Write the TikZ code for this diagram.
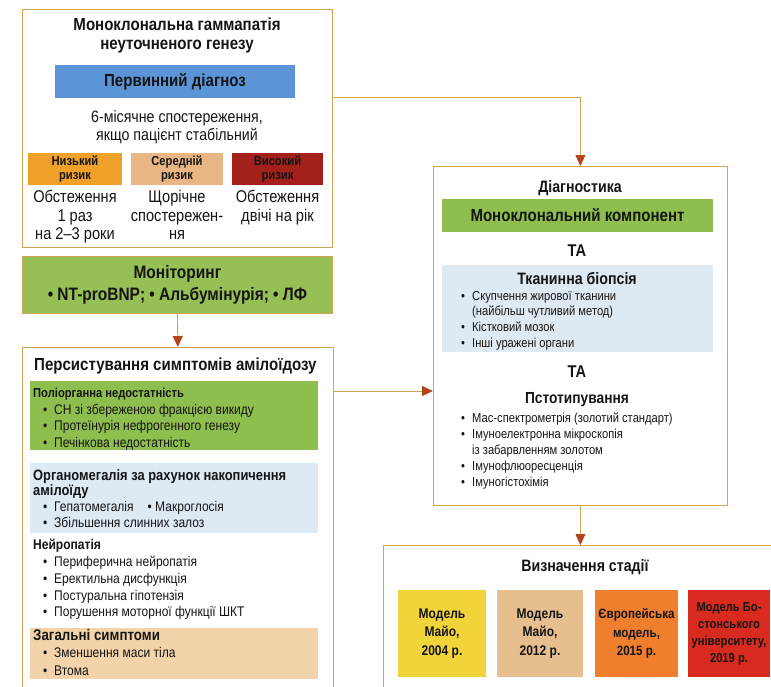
\documentclass[tikz,border=0pt]{standalone}
\usepackage{fontspec}
\setmainfont[FakeStretch=0.86]{Liberation Sans}
\usetikzlibrary{arrows.meta,calc}
\definecolor{brd}{HTML}{CFA552}
\definecolor{arr}{HTML}{B5441C}
\definecolor{barblue}{HTML}{5C94D8}
\definecolor{grn}{HTML}{8DBE4E}
\definecolor{mongrn}{HTML}{96BF55}
\definecolor{lblue}{HTML}{DDE9F3}
\definecolor{peach}{HTML}{F2D3AA}
\definecolor{risklow}{HTML}{EFA12A}
\definecolor{riskmid}{HTML}{E8B585}
\definecolor{riskhigh}{HTML}{A3201B}
\definecolor{st1}{HTML}{F1D43A}
\definecolor{st2}{HTML}{E7BE8E}
\definecolor{st3}{HTML}{EF7F2C}
\definecolor{st4}{HTML}{D92A1F}
\definecolor{txt}{HTML}{151515}
\newcommand{\bul}{\hspace*{10pt}\makebox[11pt][l]{•}}
\newcommand{\dbul}{\makebox[11pt][l]{•}}
\begin{document}
\begin{tikzpicture}[x=1pt,y=-1pt,text=txt,
  box/.style={draw=brd,line width=0.8pt,fill=white,anchor=north west,inner sep=0pt},
  panel/.style={anchor=north west,inner sep=0pt,draw=none},
  arrow/.style={draw=brd,line width=0.9pt,-{Triangle[length=11pt,width=10pt,color=arr]}},
  risk/.style={minimum height=32pt,inner sep=0pt,align=center,font=\bfseries\fontsize{13}{14}\selectfont},
  stagebox/.style={minimum height=87pt,inner sep=0pt,align=center,font=\bfseries\fontsize{14}{18.5}\selectfont},
  hdr/.style={font=\bfseries\fontsize{16.5}{18}\selectfont,inner sep=0pt},
  lst/.style={anchor=north west,align=left,inner sep=0pt},
  col/.style={anchor=north,align=center,inner sep=0pt,font=\fontsize{17}{18.5}\selectfont}]
\useasboundingbox (0,0) rectangle (771,686);
\clip (0,0) rectangle (771,686);
\fill[white] (0,0) rectangle (771,686);

% top box
\node[box,minimum width=310pt,minimum height=238pt] (top) at (22,9) {};
\node[align=center,inner sep=0pt,font=\bfseries\fontsize{17.5}{19}\selectfont] (title) at (177,35) {Моноклональна гаммапатія\\неуточненого генезу};
\node[fill=barblue,minimum width=240pt,minimum height=33pt,inner sep=0pt,font=\bfseries\fontsize{17.5}{18}\selectfont] (prim) at (175,81.5) {Первинний діагноз};
\node[align=center,inner sep=0pt,font=\fontsize{16.5}{17.5}\selectfont] (obs) at (177,127) {6-місячне спостереження,\\якщо пацієнт стабільний};
\node[risk,fill=risklow,minimum width=94pt] (low) at (75,169) {Низький\\ризик};
\node[risk,fill=riskmid,minimum width=92pt] (mid) at (177,169) {Середній\\ризик};
\node[risk,fill=riskhigh,minimum width=91pt] (high) at (277.5,169) {Високий\\ризик};
\node[col] (lowt) at (75,190) {Обстеження\\1 раз\\на 2–3 роки};
\node[col] (midt) at (177,190) {Щорічне\\спостережен-\\ня};
\node[col] (hight) at (277.5,190) {Обстеження\\двічі на рік};

% monitoring
\node[box,fill=mongrn,minimum width=310pt,minimum height=57pt,align=center,font=\bfseries\fontsize{18}{22}\selectfont] (mon) at (22,256) {Моніторинг\\• NT-proBNP; • Альбумінурія; • ЛФ};

% persistence box
\node[box,minimum width=311pt,minimum height=345pt] (pers) at (22,347) {};
\node[anchor=west,font=\bfseries\fontsize{17.5}{19}\selectfont,inner sep=0pt] (persh) at (34,366) {Персистування симптомів амілоїдозу};
\node[panel,fill=grn,minimum width=288pt,minimum height=69pt] (pg) at (30,381) {};
\node[lst,font=\fontsize{14}{16.5}\selectfont] (pgt) at (33,388) {{\bfseries\fontsize{13}{16.5}\selectfont Поліорганна недостатність}\\\bul СН зі збереженою фракцією викиду\\\bul Протеїнурія нефрогенного генезу\\\bul Печінкова недостатність};
\node[panel,fill=lblue,minimum width=288pt,minimum height=70pt] (pb) at (30,463) {};
\node[lst,font=\fontsize{14}{15.7}\selectfont] (pbt) at (33,469) {{\bfseries\fontsize{15}{15.7}\selectfont Органомегалія за рахунок накопичення}\\{\bfseries\fontsize{15}{15.7}\selectfont амілоїду}\\\bul Гепатомегалія\quad• Макроглосія\\\bul Збільшення слинних залоз};
\node[lst,font=\fontsize{14}{16.8}\selectfont] (pnt) at (33,539) {{\bfseries\fontsize{14}{16.8}\selectfont Нейропатія}\\\bul Периферична нейропатія\\\bul Еректильна дисфункція\\\bul Постуральна гіпотензія\\\bul Порушення моторної функції ШКТ};
\node[panel,fill=peach,minimum width=288pt,minimum height=51pt] (pp) at (30,628) {};
\node[lst,font=\fontsize{14}{17.5}\selectfont] (ppt) at (33,629) {{\bfseries\fontsize{15.5}{17.5}\selectfont Загальні симптоми}\\\bul Зменшення маси тіла\\\bul Втома};

% diagnostics box
\node[box,minimum width=294pt,minimum height=339pt] (diag) at (433,166) {};
\node[hdr] (diagh) at (580,188) {Діагностика};
\node[fill=grn,minimum width=271pt,minimum height=33pt,inner sep=0pt,font=\bfseries\fontsize{17.5}{18}\selectfont] (mk) at (577.5,215.5) {Моноклональний компонент};
\node[hdr,font=\bfseries\fontsize{17}{18}\selectfont] (ta1) at (577,251) {ТА};
\node[panel,fill=lblue,minimum width=271pt,minimum height=87pt] (tb) at (442,265) {};
\node[hdr] (tbh) at (577,279) {Тканинна біопсія};
\node[lst,font=\fontsize{13}{15.6}\selectfont] (tbt) at (461,291) {\dbul Скупчення жирової тканини\\\hspace*{11pt}(найбільш чутливий метод)\\\dbul Кістковий мозок\\\dbul Інші уражені органи};
\node[hdr,font=\bfseries\fontsize{17}{18}\selectfont] (ta2) at (577,372) {ТА};
\node[hdr,font=\bfseries\fontsize{16}{18}\selectfont] (tyh) at (577,400) {Пстотипування};
\node[lst,font=\fontsize{13}{16}\selectfont] (tyt) at (461,413) {\dbul Мас-спектрометрія (золотий стандарт)\\\dbul Імуноелектронна мікроскопія\\\hspace*{11pt}із забарвленням золотом\\\dbul Імунофлюоресценція\\\dbul Імуногістохімія};

% staging box
\node[box,minimum width=400pt,minimum height=160pt] (stage) at (383,545) {};
\node[hdr] (stageh) at (585,567) {Визначення стадії};
\node[stagebox,fill=st1,minimum width=88pt] (s1) at (442,633.5) {Модель\\Майо,\\2004 р.};
\node[stagebox,fill=st2,minimum width=86pt] (s2) at (540,633.5) {Модель\\Майо,\\2012 р.};
\node[stagebox,fill=st3,minimum width=83pt,font=\bfseries\fontsize{13.5}{18.5}\selectfont] (s3) at (636.5,633.5) {Європейська\\модель,\\2015 р.};
\node[stagebox,fill=st4,minimum width=82pt,font=\bfseries\fontsize{13}{17}\selectfont] (s4) at (729,633.5) {Модель Бо-\\стонського\\університету,\\2019 р.};

% connectors
\coordinate (j1) at (332,97);
\coordinate (j2) at (333,391);
\draw[arrow] (j1) -| (diag.north);
\draw[arrow] (j2) -- (j2 -| diag.west);
\draw[arrow] (mon.south) -- (pers.north);
\draw[arrow] (diag.south) -- (diag.south |- stage.north);
\end{tikzpicture}
\end{document}
